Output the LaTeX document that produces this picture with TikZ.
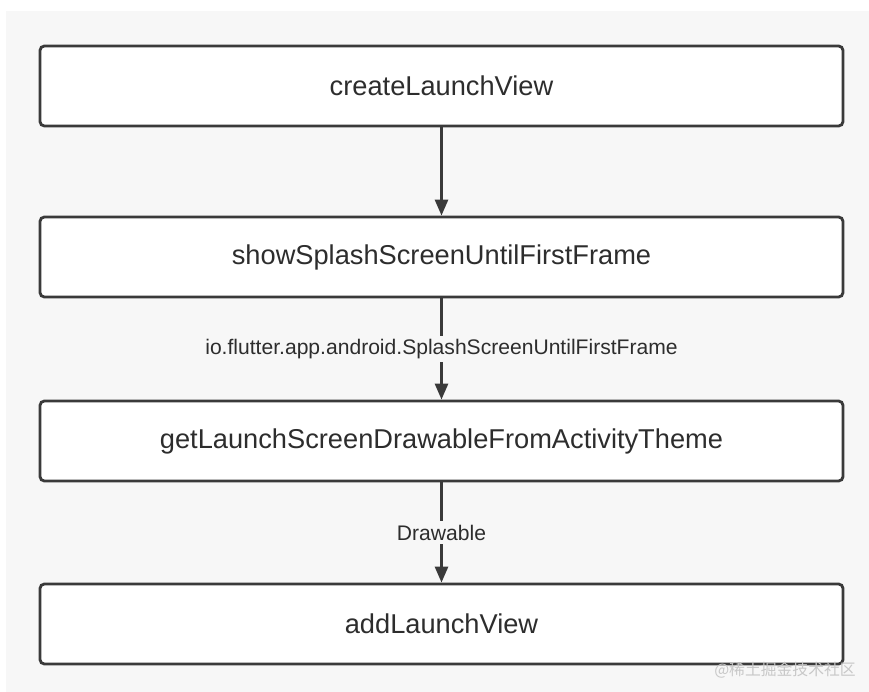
\documentclass[tikz,border=0pt]{standalone}
\usepackage{fontspec}
\setmainfont{Liberation Sans}
\newfontfamily\cjkfont{Noto Sans CJK SC}
\usepackage{xcolor}
\usetikzlibrary{arrows.meta,positioning,calc}
\definecolor{pagegray}{RGB}{247,247,247}
\definecolor{boxborder}{RGB}{58,58,58}
\definecolor{textdark}{RGB}{45,45,45}
\definecolor{markgray}{RGB}{200,200,200}

\begin{document}
\begin{tikzpicture}[
  stepbox/.style={draw=boxborder, fill=white, line width=1.6pt, rounded corners=2.5pt, minimum width=16.06cm, minimum height=1.6cm, text=textdark, font=\fontsize{15.5}{18}\selectfont},
  flow/.style={draw=boxborder, line width=1.6pt, -{Triangle[length=0.32cm, width=0.26cm]}},
  flowlabel/.style={fill=pagegray, text=textdark, inner sep=2pt, font=\fontsize{12}{14}\selectfont}
]
\useasboundingbox (0,0) rectangle (17.38,-13.84);
\fill[white] (0,0) rectangle (17.38,-13.84);
\fill[pagegray] (0.12,-0.22) rectangle (17.38,-13.84);

\node[stepbox] (create) at (8.83,-1.72) {createLaunchView};
\node[stepbox] (splash) at (8.83,-5.14) {showSplashScreenUntilFirstFrame};
\node[stepbox] (drawable) at (8.83,-8.82) {getLaunchScreenDrawableFromActivityTheme};
\node[stepbox] (add) at (8.83,-12.48) {addLaunchView};

\draw[flow] (create) -- (splash);
\draw[flow] (splash) -- node[flowlabel] {io.flutter.app.android.SplashScreenUntilFirstFrame} (drawable);
\draw[flow] (drawable) -- node[flowlabel] {Drawable} (add);

\node[text=markgray, font=\cjkfont\fontsize{9}{10}\selectfont, inner sep=0pt] (mark) at (15.7,-13.4) {@稀土掘金技术社区};
\end{tikzpicture}
\end{document}
